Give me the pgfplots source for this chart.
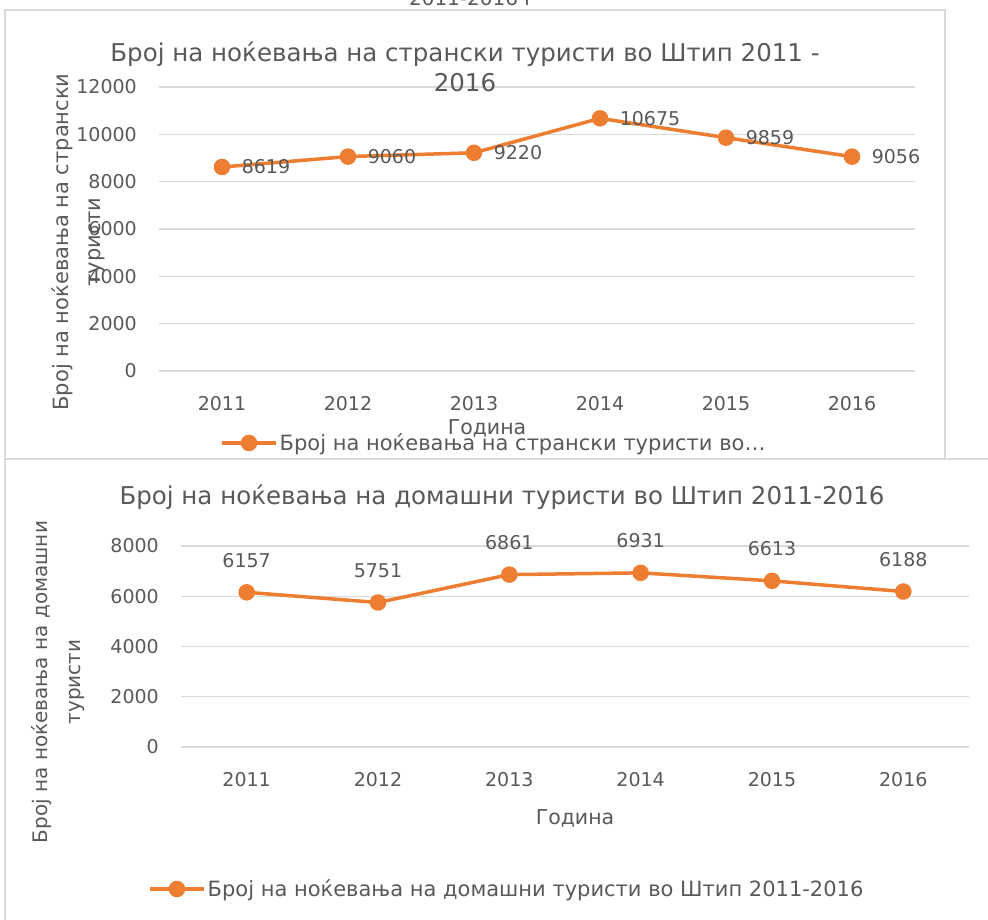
\documentclass[border=0pt]{standalone}
\usepackage{pgfplots}
\pgfplotsset{compat=1.18}
\usepackage{fontspec}
\setmainfont{DejaVu Sans}
\definecolor{xorange}{HTML}{ED7D31}
\definecolor{xtext}{HTML}{595959}
\definecolor{xgrid}{HTML}{D9D9D9}
\newcommand{\fs}[1]{\fontsize{#1}{#1}\selectfont}
\pgfplotsset{
  xlstyle/.style={
    scale only axis, clip=false,
    xmin=-0.5, xmax=5.5,
    xtick={0,...,5}, xticklabels={2011,2012,2013,2014,2015,2016},
    scaled y ticks=false,
    ymajorgrids, grid style={xgrid, line width=1.3pt},
    axis line style={draw=none}, major tick length=0pt,
    tick label style={font=\fs{19}, text=xtext, inner sep=0pt},
    xticklabel style={yshift=-25pt},
    yticklabel style={xshift=-22pt},
    /pgf/number format/assume math mode=true,
    /pgf/number format/1000 sep={},
    legend cell align=left,
    legend image code/.code={\draw[mark repeat=2,mark phase=2,#1] plot coordinates {(0pt,0pt) (27pt,0pt) (54pt,0pt)};},
  },
  xlplot/.style={color=xorange, line width=3.5pt, line join=round, mark=*, mark size=6.5pt, mark options={solid}},
}
\begin{document}
\begin{tikzpicture}
\useasboundingbox (0pt,0pt) rectangle (988pt,920pt);
\fill[white] (0pt,0pt) rectangle (988pt,920pt);
\draw[xgrid, line width=1.5pt] (5pt,910pt) rectangle (945pt,461pt);
\draw[xgrid, line width=1.5pt] (992pt,461pt) -- (5pt,461pt) -- (5pt,-5pt);
\node[anchor=base, text=xtext, font=\fs{20}] at (472pt,914pt) {2011-2016 г};

\begin{axis}[xlstyle, at={(159pt,549pt)}, anchor=south west, width=756pt, height=284pt,
  ymin=0, ymax=12000, ytick={0,2000,...,12000},
  legend style={draw=none, fill=none, inner sep=0pt, at={(0.0807,-0.2535)}, anchor=west, font=\fs{21}, text=xtext},
  nodes near coords, nodes near coords style={font=\fs{19}, text=xtext, anchor=west, inner sep=0pt, xshift=18pt}]
\addplot[xlplot] coordinates {(0,8619) (1,9060) (2,9220) (3,10675) (4,9859) (5,9056)};
\addlegendentry{Број на ноќевања на странски туристи во…}
\end{axis}
\node[align=center, text=xtext, font=\fontsize{24.5}{30}\selectfont] at (465pt,853pt) {Број на ноќевања на странски туристи во Штип 2011 -\\2016};
\node[rotate=90, align=center, text=xtext, font=\fontsize{21}{32}\selectfont] at (78pt,678pt) {Број на ноќевања на странски\\туристи};
\node[text=xtext, font=\fs{20.5}] at (487pt,492pt) {Година};

\begin{axis}[xlstyle, at={(181pt,173pt)}, anchor=south west, width=788pt, height=201pt,
  ymin=0, ymax=8000, ytick={0,2000,...,8000},
  legend style={draw=none, fill=none, inner sep=0pt, at={(-0.0419,-0.7065)}, anchor=west, font=\fs{21}, text=xtext},
  nodes near coords, nodes near coords style={font=\fs{19}, text=xtext, anchor=south, inner sep=0pt, yshift=23pt}]
\addplot[xlplot] coordinates {(0,6157) (1,5751) (2,6861) (3,6931) (4,6613) (5,6188)};
\addlegendentry{Број на ноќевања на домашни туристи во Штип 2011-2016}
\end{axis}
\node[text=xtext, font=\fs{24.5}] at (502pt,423pt) {Број на ноќевања на домашни туристи во Штип 2011-2016};
\node[rotate=90, align=center, text=xtext, font=\fontsize{20}{33}\selectfont] at (58pt,238pt) {Број на ноќевања на домашни\\туристи};
\node[text=xtext, font=\fs{20.5}] at (575pt,102pt) {Година};
\end{tikzpicture}
\end{document}
